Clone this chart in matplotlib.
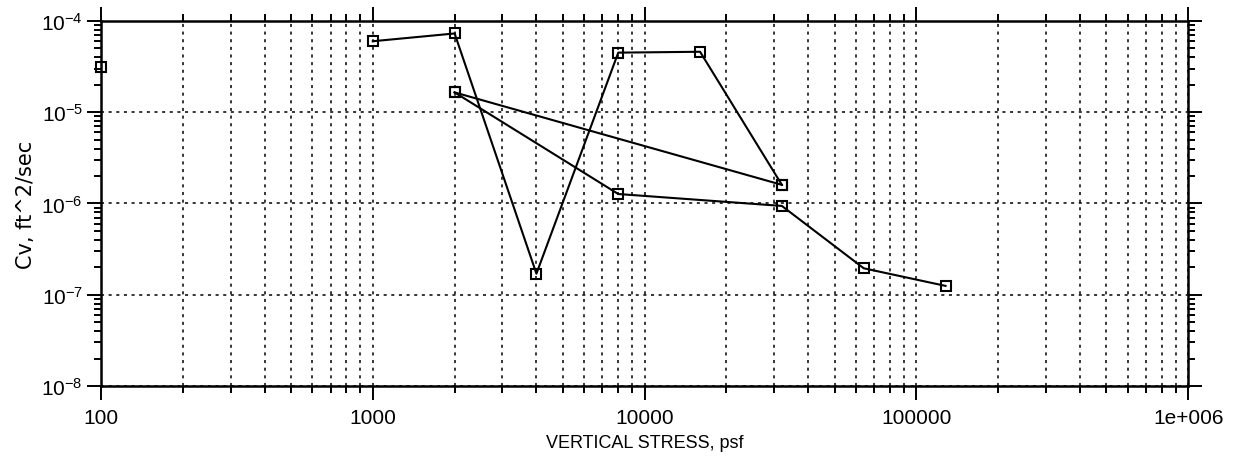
import matplotlib
matplotlib.use("Agg")
import matplotlib.pyplot as plt
from matplotlib.ticker import LogLocator, FixedLocator, NullFormatter

plt.rcParams['font.family'] = ['Liberation Sans', 'DejaVu Sans']

# Data
s1_x = [1000, 2000, 4000, 8000, 16000, 32000]
s1_y = [6.0e-5, 7.3e-5, 1.7e-7, 4.5e-5, 4.6e-5, 1.6e-6]
s2_x = [2000, 32000]
s2_y = [1.65e-5, 1.6e-6]
s3_x = [2000, 8000, 32000, 64000, 128000]
s3_y = [1.65e-5, 1.27e-6, 9.4e-7, 1.95e-7, 1.25e-7]
s4_x = [100]
s4_y = [3.1e-5]

x_ticks = [100, 1000, 10000, 100000, 1000000]
x_labels = ["100", "1000", "10000", "100000", "1e+006"]
y_ticks = [1e-8, 1e-7, 1e-6, 1e-5, 1e-4]
y_labels = [r"$\mathregular{10^{-8}}$", r"$\mathregular{10^{-7}}$", r"$\mathregular{10^{-6}}$",
            r"$\mathregular{10^{-5}}$", r"$\mathregular{10^{-4}}$"]

fig = plt.figure(figsize=(12.39, 4.64), dpi=100)
ax = fig.add_axes([0.0815, 0.166, 0.8775, 0.7866])

mk = dict(marker='s', markersize=7.5, markerfacecolor='none', markeredgecolor='black',
          markeredgewidth=1.5, color='black', linewidth=1.5)
for xs, ys in [(s1_x, s1_y), (s2_x, s2_y), (s3_x, s3_y), (s4_x, s4_y)]:
    ax.plot(xs, ys, clip_on=False, zorder=3, **mk)

ax.set_xscale('log')
ax.set_yscale('log')
ax.set_xlim(100, 1e6)
ax.set_ylim(1e-8, 1e-4)

ax.xaxis.set_major_locator(FixedLocator(x_ticks))
ax.set_xticklabels(x_labels)
ax.xaxis.set_minor_locator(LogLocator(base=10, subs=range(2, 10), numticks=20))
ax.xaxis.set_minor_formatter(NullFormatter())
ax.yaxis.set_major_locator(FixedLocator(y_ticks))
ax.set_yticklabels(y_labels)
ax.yaxis.set_minor_locator(LogLocator(base=10, subs=range(2, 10), numticks=20))
ax.yaxis.set_minor_formatter(NullFormatter())

ax.grid(True, which='major', axis='both', linestyle=(0, (2, 3)), color='black', linewidth=1.1)
ax.grid(True, which='minor', axis='x', linestyle=(0, (2, 3)), color='black', linewidth=1.1)

ax.tick_params(which='both', direction='out', top=True, right=True, width=1.4)
ax.tick_params(axis='x', which='major', labelsize=15, pad=6)
ax.tick_params(axis='y', which='major', labelsize=15, pad=3)
ax.tick_params(which='major', length=10)
ax.tick_params(which='minor', length=5)
for sp in ax.spines.values():
    sp.set_linewidth(1.8)

ax.set_xlabel("VERTICAL STRESS, psf", fontsize=13, labelpad=5)
ax.set_ylabel("Cv, ft^2/sec", fontsize=15, labelpad=4, family=['DejaVu Sans'])

fig.savefig("out.png", dpi=100)
